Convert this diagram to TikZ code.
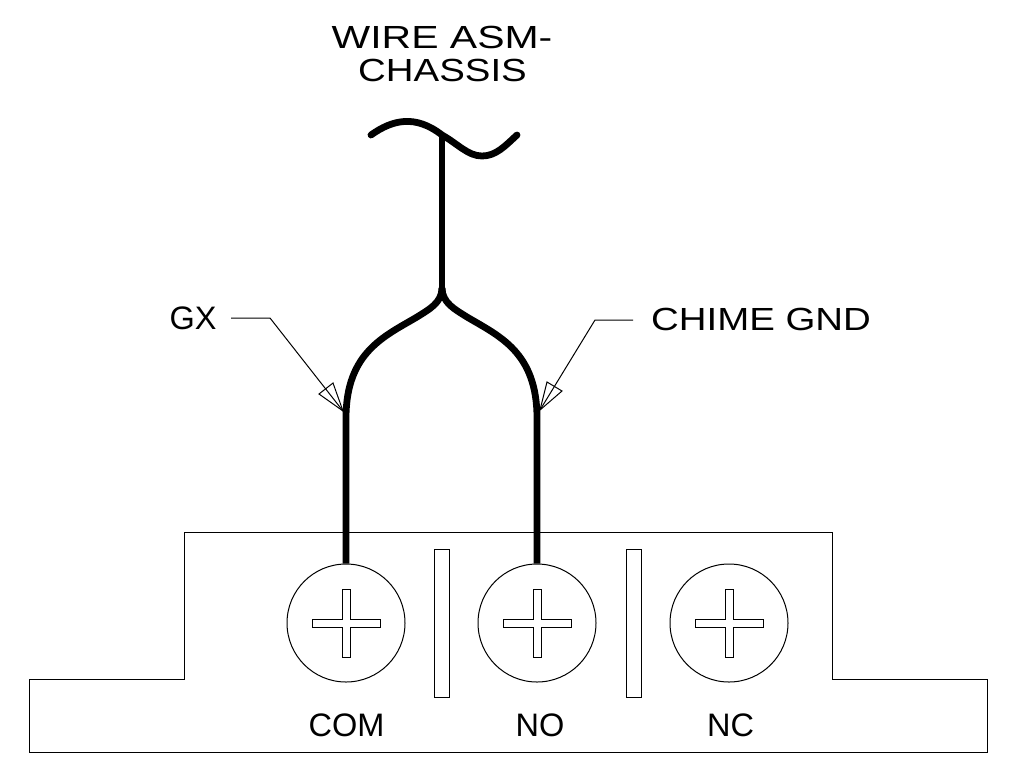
\documentclass[tikz,border=0pt]{standalone}
\usepackage{fontspec}
\setmainfont{Liberation Sans}
\newfontfamily\widefont[FakeStretch=1.2]{Liberation Sans}
\newfontfamily\widerfont[FakeStretch=1.28]{Liberation Sans}
\usetikzlibrary{positioning}
\usetikzlibrary{calc}

\begin{document}
\begin{tikzpicture}
 [ x=1pt
 , y=-1pt
 , wire/.style={line width=6.8pt, line join=round}
 , thinline/.style={line width=1pt}
 , screw/.style={draw, thinline, circle, minimum size=118pt, inner sep=0pt}
 , divider/.style={draw, thinline, rectangle, minimum width=15pt, minimum height=148pt, inner sep=0pt}
 , terminal/.style={font=\fontsize{32.5}{36}\selectfont, inner sep=0pt, anchor=base}
 , callout/.style={font=\widefont\fontsize{32}{36}\selectfont, inner sep=0pt, anchor=base}
 , wide callout/.style={callout, font=\widerfont\fontsize{32}{36}\selectfont}
 ]
  \useasboundingbox (0,0) rectangle (1011,782);

  % terminal block
  \draw [thinline] (29,679) -- (184,679) -- (184,532) -- (832,532) -- (832,679)
    -- (987,679) -- (987,752) -- (29,752) -- cycle;

  \node [screw] (com) at (346,623) {};
  \node [screw] (no) at (537,623) {};
  \node [screw] (nc) at (729,623) {};
  \node [divider] (bar a) at (441.5,623) {};
  \node [divider] (bar b) at (633.5,623) {};

  \foreach \s in {com,no,nc}
  {
    \draw [thinline] ($(\s)+(-4,-34)$) -- ++(8,0) -- ++(0,30) -- ++(30,0) -- ++(0,8)
      -- ++(-30,0) -- ++(0,30) -- ++(-8,0) -- ++(0,-30) -- ++(-30,0) -- ++(0,-8)
      -- ++(30,0) -- cycle;
  }

  \node [terminal] (com label) at (346.5,736) {COM};
  \node [terminal] (no label) at (540,736) {NO};
  \node [terminal] (nc label) at (730.5,736) {NC};

  % wires
  \coordinate (top) at (442,135);
  \coordinate (fork) at (442,288);
  \draw [wire, line cap=round] (371,135) .. controls (392,120) and (415,114) .. (top)
    .. controls (458,144) and (468,156) .. (482,156)
    .. controls (496,156) and (505,146) .. (517,135);
  \draw [wire] (top) -- (fork);
  \draw [wire] (fork) .. controls (442,303) and (428,310) .. (417,317)
    .. controls (385,336) and (346,352) .. (346,418) -- (com.north);
  \draw [wire] (fork) .. controls (442,303) and (456,310) .. (467,317)
    .. controls (499,336) and (537,352) .. (537,418) -- (no.north);

  % callouts
  \node [terminal] (gx label) at (193,329) {GX};
  \coordinate (gx bend) at (270,318);
  \coordinate (gx tip) at (343,411);
  \draw [thinline] (231,318) -- (gx bend) -- (gx tip);
  \draw [thinline] (gx tip) -- (319,394) -- (333,383) -- cycle;

  \node [callout] (chime label) at (761,330) {CHIME GND};
  \coordinate (chime bend) at (595,320);
  \coordinate (chime tip) at (540,410);
  \draw [thinline] (633,320) -- (chime bend) -- (chime tip);
  \draw [thinline] (chime tip) -- (562,391) -- (547,382) -- cycle;

  \node [wide callout] (wire label) at (442,48) {WIRE ASM-};
  \node [callout] (chassis label) at (442.5,81.5) {CHASSIS};
\end{tikzpicture}
\end{document}
